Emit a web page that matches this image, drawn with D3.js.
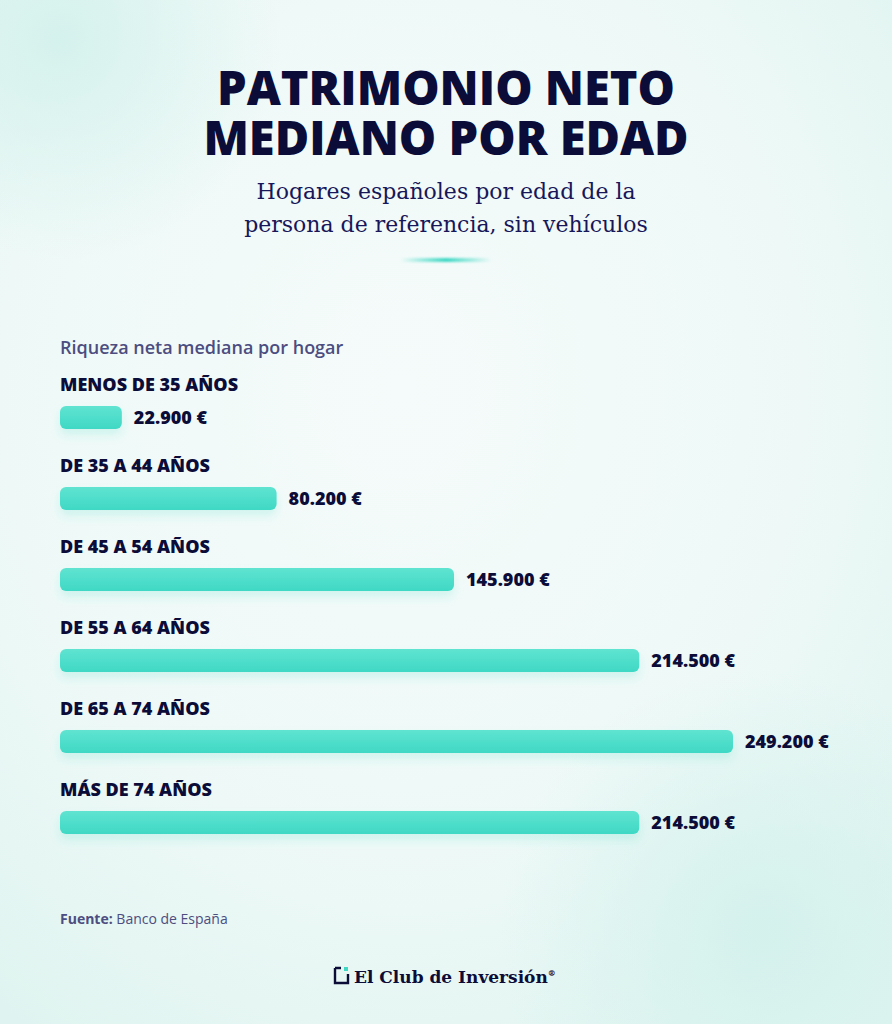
<!DOCTYPE html>
<html>
<head>
<meta charset="utf-8">
<script src="https://cdn.jsdelivr.net/npm/d3@7"></script>
<style>
  html, body { margin: 0; padding: 0; }
  body { width: 892px; height: 1024px; overflow: hidden; }
</style>
</head>
<body>
<div id="chart"></div>
<script>
// data
let categories = ['MENOS DE 35 AÑOS', 'DE 35 A 44 AÑOS', 'DE 45 A 54 AÑOS',
    'DE 55 A 64 AÑOS', 'DE 65 A 74 AÑOS', 'MÁS DE 74 AÑOS'];
let values = [22900, 80200, 145900, 214500, 249200, 214500];
let valueLabels = ['22.900 €', '80.200 €', '145.900 €', '214.500 €', '249.200 €', '214.500 €'];

let W = 892, H = 1024;
let navy = '#0c0c38';

let svg = d3.select('#chart').append('svg')
    .attr('width', W).attr('height', H);

let defs = svg.append('defs');

let bg = defs.append('radialGradient').attr('id', 'bg')
    .attr('cx', '45%').attr('cy', '38%').attr('r', '75%');
bg.append('stop').attr('offset', '0%').attr('stop-color', '#f5fbfa');
bg.append('stop').attr('offset', '60%').attr('stop-color', '#eef9f7');
bg.append('stop').attr('offset', '100%').attr('stop-color', '#dff4f0');

let blob = defs.append('radialGradient').attr('id', 'blob');
blob.append('stop').attr('offset', '0%').attr('stop-color', '#d3f1ec').attr('stop-opacity', 0.9);
blob.append('stop').attr('offset', '100%').attr('stop-color', '#d3f1ec').attr('stop-opacity', 0);

let barGrad = defs.append('linearGradient').attr('id', 'barGrad')
    .attr('x1', 0).attr('y1', 0).attr('x2', 0).attr('y2', 1);
barGrad.append('stop').attr('offset', '0%').attr('stop-color', '#5fe4d1');
barGrad.append('stop').attr('offset', '100%').attr('stop-color', '#3fd8c4');

let lineGrad = defs.append('linearGradient').attr('id', 'lineGrad');
lineGrad.append('stop').attr('offset', '0%').attr('stop-color', '#3fd8c4').attr('stop-opacity', 0);
lineGrad.append('stop').attr('offset', '50%').attr('stop-color', '#3fd8c4');
lineGrad.append('stop').attr('offset', '100%').attr('stop-color', '#3fd8c4').attr('stop-opacity', 0);

let shadow = defs.append('filter').attr('id', 'shadow')
    .attr('x', '-10%').attr('y', '-50%').attr('width', '120%').attr('height', '250%');
shadow.append('feDropShadow').attr('dx', 0).attr('dy', 6).attr('stdDeviation', 5)
    .attr('flood-color', '#3fd8c4').attr('flood-opacity', 0.18);

let glow = defs.append('filter').attr('id', 'glow')
    .attr('x', '-30%').attr('y', '-300%').attr('width', '160%').attr('height', '700%');
glow.append('feGaussianBlur').attr('stdDeviation', 1.2);

svg.append('rect').attr('width', W).attr('height', H).attr('fill', 'url(#bg)');
svg.append('circle').attr('cx', 760).attr('cy', 930).attr('r', 260).attr('fill', 'url(#blob)');
svg.append('circle').attr('cx', 60).attr('cy', 40).attr('r', 220).attr('fill', 'url(#blob)');

// title, one text with two lines
svg.append('text')
    .attr('text-anchor', 'middle')
    .attr('font-family', 'Open Sans')
    .attr('font-weight', 800)
    .attr('font-size', 47)
    .attr('fill', navy)
    .selectAll('tspan')
    .data(['PATRIMONIO NETO', 'MEDIANO POR EDAD'])
    .join('tspan')
    .attr('x', W / 2)
    .attr('y', (d, i) => 105 + i * 50)
    .text(d => d);

svg.append('text')
    .attr('text-anchor', 'middle')
    .attr('font-family', 'DejaVu Serif')
    .attr('font-size', 22)
    .attr('fill', '#17175a')
    .selectAll('tspan')
    .data(['Hogares españoles por edad de la', 'persona de referencia, sin vehículos'])
    .join('tspan')
    .attr('x', W / 2)
    .attr('y', (d, i) => 199 + i * 33)
    .text(d => d);

svg.append('rect')
    .attr('x', 400).attr('y', 258).attr('width', 92).attr('height', 4).attr('rx', 2)
    .attr('fill', 'url(#lineGrad)').attr('filter', 'url(#glow)');

svg.append('text')
    .attr('x', 60).attr('y', 354)
    .attr('font-family', 'Open Sans').attr('font-weight', 600).attr('font-size', 18)
    .attr('fill', '#4c4d80')
    .text('Riqueza neta mediana por hogar');

// bars
let x = d3.scaleLinear().domain([0, d3.max(values)]).range([0, 673]);
let y = d3.scaleBand().domain(categories).range([366, 852]);

let rows = svg.append('g').attr('transform', 'translate(60,0)')
    .selectAll('g').data(categories).join('g')
    .attr('transform', d => 'translate(0,' + y(d) + ')');

rows.append('text')
    .attr('y', 25)
    .attr('font-family', 'Open Sans').attr('font-weight', 800).attr('font-size', 18)
    .attr('fill', navy)
    .text(d => d);

rows.append('rect')
    .attr('y', 40)
    .attr('width', (d, i) => x(values[i]))
    .attr('height', 23)
    .attr('rx', 6)
    .attr('fill', 'url(#barGrad)')
    .attr('filter', 'url(#shadow)');

rows.append('text')
    .attr('x', (d, i) => x(values[i]) + 12)
    .attr('y', 58)
    .attr('font-family', 'Open Sans').attr('font-weight', 800).attr('font-size', 18)
    .attr('fill', navy)
    .text((d, i) => valueLabels[i]);

// source
let src = svg.append('text')
    .attr('x', 60).attr('y', 924)
    .attr('font-family', 'Open Sans').attr('font-size', 14)
    .attr('fill', '#4c4d80');
src.append('tspan').attr('font-weight', 700).text('Fuente:');
src.append('tspan').text(' Banco de España');

// logo
let logo = svg.append('g').attr('transform', 'translate(334,967)');
logo.append('path')
    .attr('d', 'M1,1 V16 H14 V7 M1,1 H7')
    .attr('fill', 'none').attr('stroke', navy).attr('stroke-width', 2.4);
logo.append('rect').attr('x', 10).attr('y', 0).attr('width', 4).attr('height', 4).attr('fill', '#3fd8c4');
let logoText = logo.append('text')
    .attr('x', 20).attr('y', 16)
    .attr('font-family', 'DejaVu Serif').attr('font-weight', 700).attr('font-size', 17)
    .attr('fill', navy);
logoText.append('tspan').text('El Club de Inversión');
logoText.append('tspan').attr('font-size', 8).attr('dy', -7).text('®');
</script>
</body>
</html>
